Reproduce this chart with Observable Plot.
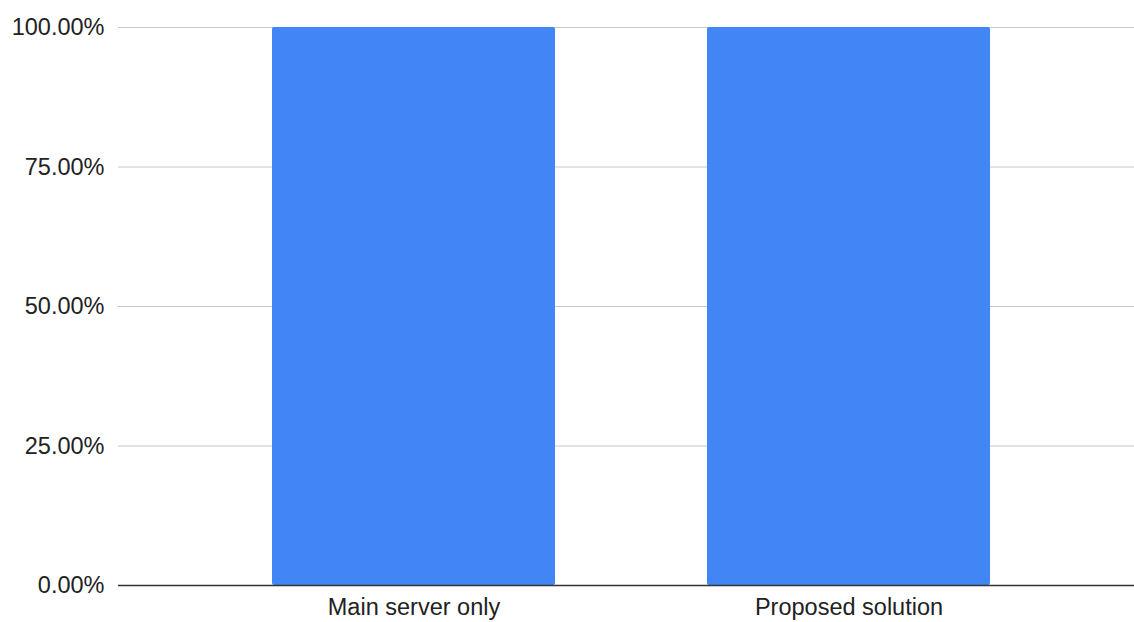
<!DOCTYPE html>
<html>
<head>
<meta charset="utf-8">
<script src="https://cdn.jsdelivr.net/npm/d3@7"></script>
<script src="https://cdn.jsdelivr.net/npm/@observablehq/plot@0.6"></script>
<style>
  html, body { margin: 0; padding: 0; background: #fff; }
</style>
</head>
<body>
<div id="chart"></div>
<script>
// Share of requests served, per setup
const categories = ["Main server only", "Proposed solution"];
const shares = [100, 100];
const yTicks = [0, 25, 50, 75, 100];

const rows = categories.map((c, i) => ({category: c, share: shares[i]}));

const chart = Plot.plot({
  width: 1134,
  height: 622,
  marginTop: 27,
  marginBottom: 37,
  marginLeft: 118,
  marginRight: 0,
  style: {
    fontFamily: "'Liberation Sans', Arial, sans-serif",
    fontSize: "23.5px",
    color: "#222",
    background: "#fff"
  },
  x: {
    domain: categories,
    paddingInner: 0.35,
    paddingOuter: 0.342,
    align: 0.517,
    label: null
  },
  y: {
    domain: [0, 100],
    label: null
  },
  marks: [
    Plot.gridY(yTicks, {stroke: "#c8c8c8", strokeOpacity: 1, strokeWidth: 1}),
    Plot.barY(rows, {x: "category", y: "share", fill: "#4285F4", rx: 2}),
    Plot.ruleY([0], {stroke: "#333", strokeWidth: 1.6}),
    Plot.axisX({tickSize: 0, tickPadding: 13, label: null}),
    Plot.axisY({ticks: yTicks, tickSize: 0, tickPadding: 14, label: null,
      tickFormat: d => d.toFixed(2) + "%"})
  ]
});

document.getElementById("chart").append(chart);
</script>
</body>
</html>
